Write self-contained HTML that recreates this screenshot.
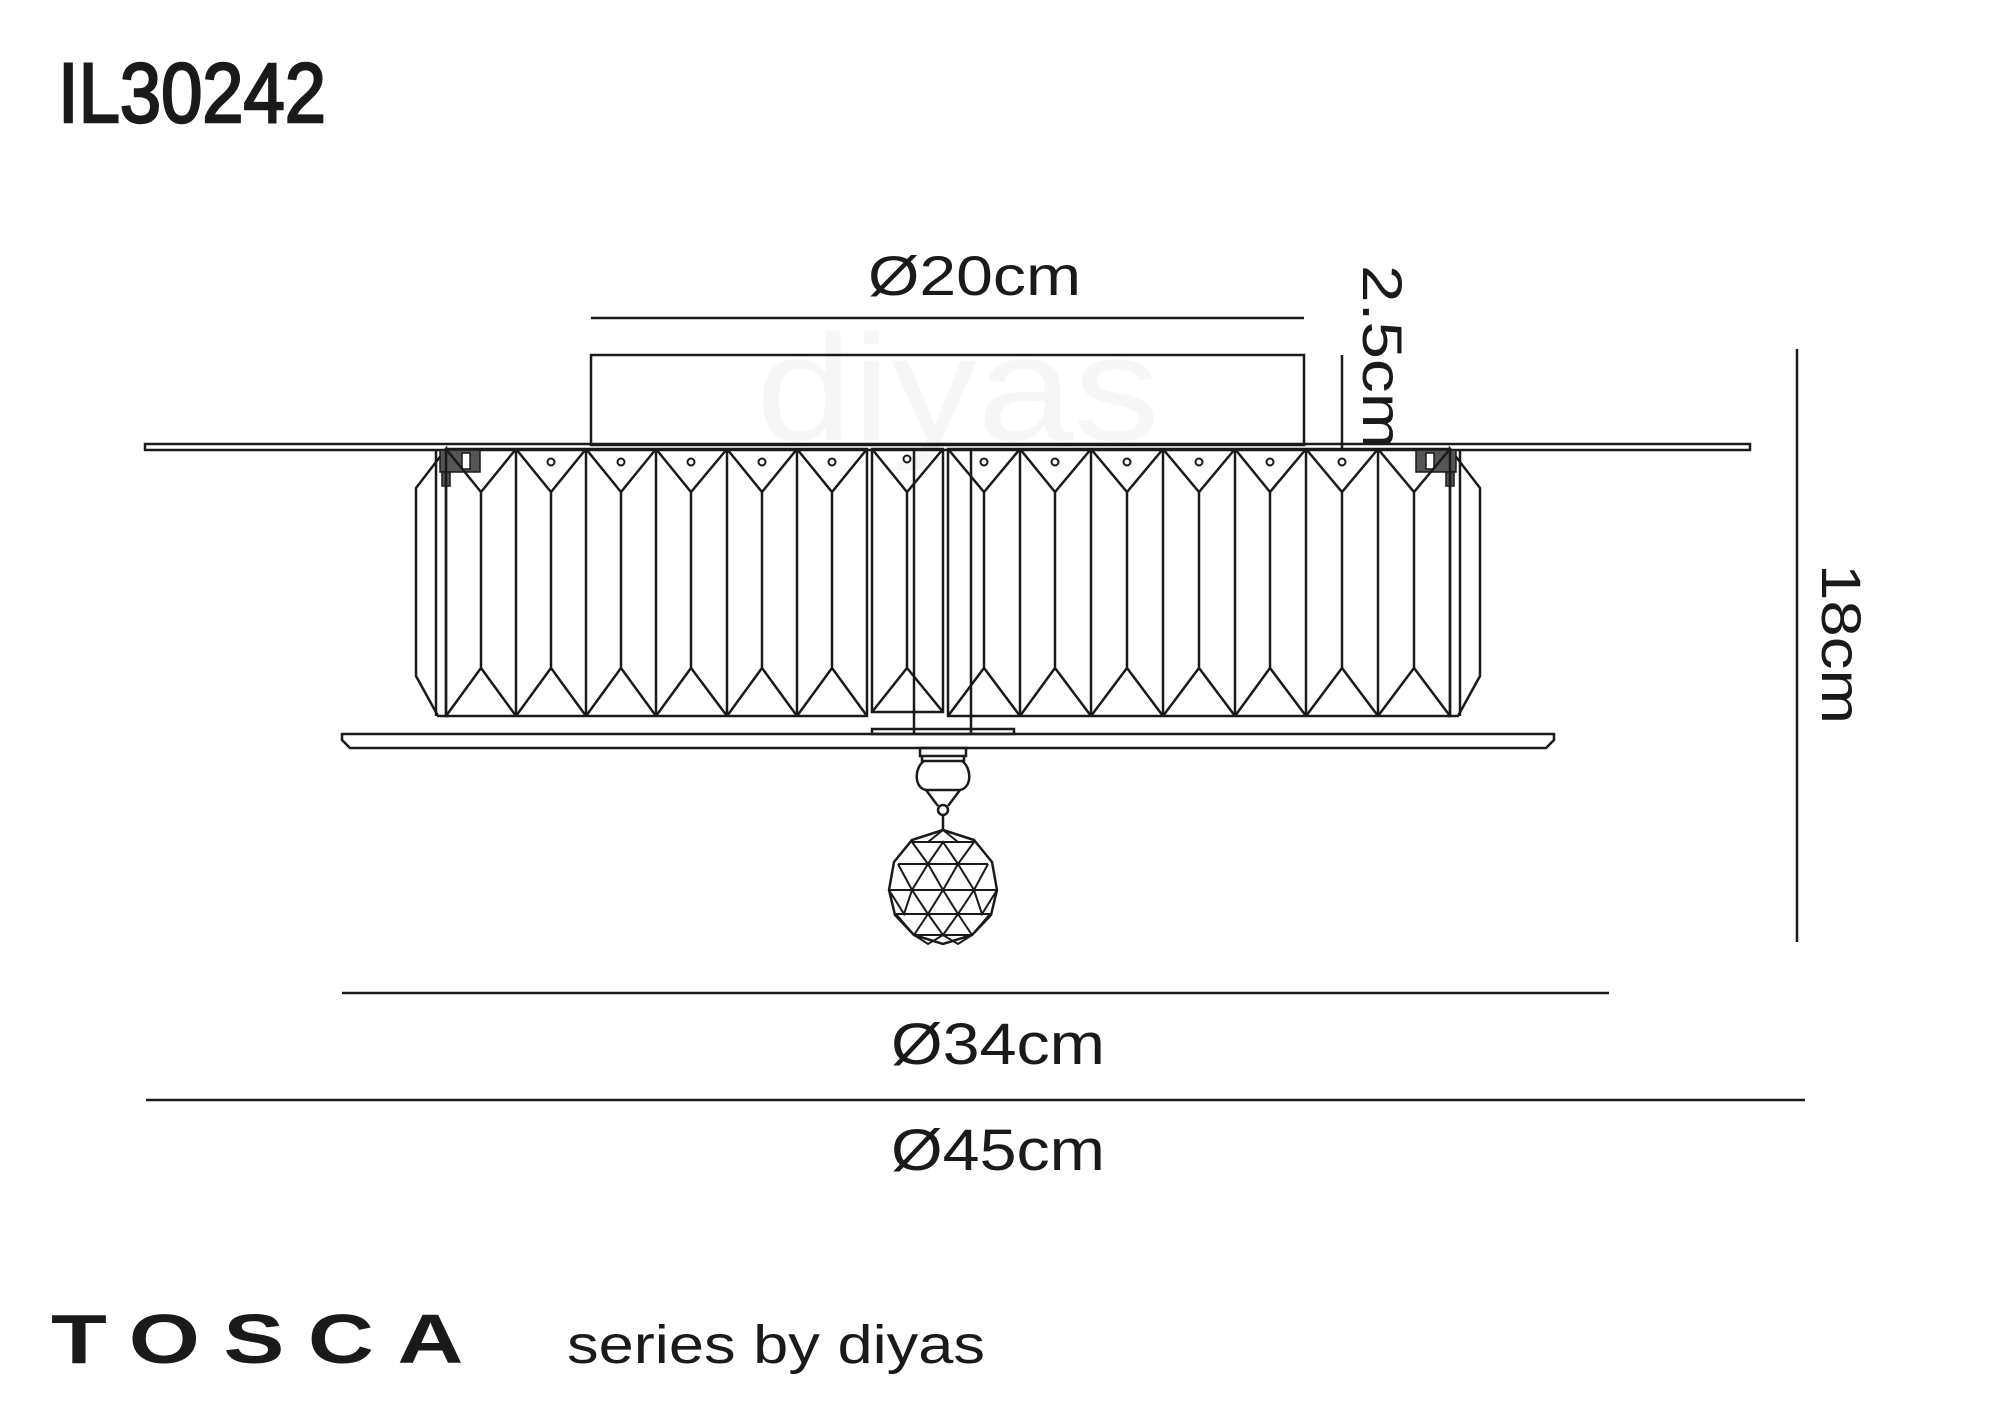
<!DOCTYPE html>
<html><head><meta charset="utf-8"><style>
html,body{margin:0;padding:0;background:#fff;}
svg{display:block;}
text{font-family:"Liberation Sans",sans-serif;fill:#1a1a1a;}
</style></head><body>
<svg width="2000" height="1417" viewBox="0 0 2000 1417" xmlns="http://www.w3.org/2000/svg">
<rect width="2000" height="1417" fill="#fff"/>
<text x="756" y="440" font-size="150" textLength="404" lengthAdjust="spacingAndGlyphs" style="fill:#f6f6f6">diyas</text>

<text x="58" y="122" font-size="84" textLength="268" lengthAdjust="spacingAndGlyphs" style="stroke:#1a1a1a;stroke-width:2.5">IL30242</text>

<g stroke="#1a1a1a" stroke-width="2.5" fill="none">
<line x1="591" y1="318" x2="1304" y2="318"/>
<rect x="591" y="355" width="713" height="90"/>
<rect x="145" y="444" width="1605" height="6"/>
<line x1="1342" y1="355" x2="1342" y2="451"/>
<line x1="1797" y1="349" x2="1797" y2="942"/>
<line x1="342" y1="993" x2="1609" y2="993"/>
<line x1="146" y1="1100" x2="1805" y2="1100"/>

<polygon points="446,449 416,488 416,676 438,716 446,716"/>
<line x1="436" y1="449" x2="436" y2="716"/>
<polygon points="1450,449 1480,488 1480,676 1458,716 1450,716"/>
<line x1="1460" y1="449" x2="1460" y2="716"/>
<rect x="440" y="450" width="40" height="22" fill="#555" stroke-width="1.5"/>
<rect x="462" y="453" width="8" height="16" fill="#fff" stroke-width="1.5"/>
<rect x="442" y="472" width="8" height="14" fill="#555" stroke-width="1.5"/>
<rect x="1416" y="450" width="40" height="22" fill="#555" stroke-width="1.5"/>
<rect x="1426" y="453" width="8" height="16" fill="#fff" stroke-width="1.5"/>
<rect x="1446" y="472" width="8" height="14" fill="#555" stroke-width="1.5"/>

<rect x="446" y="449" width="421" height="267"/>
<path d="M446,449L481,492L516,449M481,492V668M446,716L481,668L516,716"/>
<path d="M516,449V716M516,449L551,492L586,449M551,492V668M516,716L551,668L586,716"/>
<path d="M586,449V716M586,449L621,492L656,449M621,492V668M586,716L621,668L656,716"/>
<path d="M656,449V716M656,449L691,492L727,449M691,492V668M656,716L691,668L727,716"/>
<path d="M727,449V716M727,449L762,492L797,449M762,492V668M727,716L762,668L797,716"/>
<path d="M797,449V716M797,449L832,492L867,449M832,492V668M797,716L832,668L867,716"/>
<rect x="872" y="449" width="71" height="263"/>
<path d="M872,449L907,492L943,449M907,492V668M872,712L907,668L943,712"/>
<line x1="914" y1="449" x2="914" y2="733"/>
<line x1="971" y1="449" x2="971" y2="733"/>
<rect x="948" y="449" width="502" height="267"/>
<path d="M948,449L984,492L1020,449M984,492V668M948,716L984,668L1020,716"/>
<path d="M1020,449V716M1020,449L1055,492L1091,449M1055,492V668M1020,716L1055,668L1091,716"/>
<path d="M1091,449V716M1091,449L1127,492L1163,449M1127,492V668M1091,716L1127,668L1163,716"/>
<path d="M1163,449V716M1163,449L1199,492L1235,449M1199,492V668M1163,716L1199,668L1235,716"/>
<path d="M1235,449V716M1235,449L1270,492L1306,449M1270,492V668M1235,716L1270,668L1306,716"/>
<path d="M1306,449V716M1306,449L1342,492L1378,449M1342,492V668M1306,716L1342,668L1378,716"/>
<path d="M1378,449V716M1378,449L1414,492L1450,449M1414,492V668M1378,716L1414,668L1450,716"/>
<g stroke-width="2">
<circle cx="551" cy="462" r="3.5"/><circle cx="621" cy="462" r="3.5"/><circle cx="691" cy="462" r="3.5"/>
<circle cx="762" cy="462" r="3.5"/><circle cx="832" cy="462" r="3.5"/><circle cx="907" cy="459" r="3.5"/>
<circle cx="984" cy="462" r="3.5"/><circle cx="1055" cy="462" r="3.5"/><circle cx="1127" cy="462" r="3.5"/>
<circle cx="1199" cy="462" r="3.5"/><circle cx="1270" cy="462" r="3.5"/><circle cx="1342" cy="462" r="3.5"/>
</g>

<rect x="872" y="729" width="142" height="5"/>
<polygon points="342,734 1554,734 1554,740 1546,748 350,748 342,740"/>

<path d="M920,748H966V756H920Z M922,756H964V761H922Z"/>
<path d="M924,761 C914,768 914,788 926,790 L938,806 M962,761 C972,768 972,788 960,790 L948,806 M926,790H960"/>
<circle cx="943" cy="810" r="5"/>
<line x1="943" y1="815" x2="943" y2="830"/>
<polygon points="943,830 974,840 992,862 997,890 991,915 972,935 943,944 914,935 895,915 889,890 894,862 912,840"/>
<g stroke-width="2">
<path d="M912,842H974M898,864H988M889,890H997M896,914H990M914,935H972"/>
<path d="M912,842L928,864L943,842L958,864L974,842 M943,830L928,842 M943,830L958,842"/>
<path d="M898,864L912,890L928,864L943,890L958,864L974,890L988,864"/>
<path d="M889,890L904,914L912,890L928,914L943,890L958,914L974,890L982,914L997,890"/>
<path d="M896,914L914,935L928,914L943,935L958,914L972,935L990,914"/>
<path d="M914,935L928,944L943,935L958,944L972,935"/>
</g>
</g>

<text x="868" y="295" font-size="56" textLength="213" lengthAdjust="spacingAndGlyphs">Ø20cm</text>
<text x="891" y="1064" font-size="58" textLength="214" lengthAdjust="spacingAndGlyphs">Ø34cm</text>
<text x="891" y="1170" font-size="58" textLength="214" lengthAdjust="spacingAndGlyphs">Ø45cm</text>
<text transform="translate(1363,265) rotate(90)" font-size="56" textLength="184" lengthAdjust="spacingAndGlyphs">2.5cm</text>
<text transform="translate(1822,564) rotate(90)" font-size="56" textLength="160" lengthAdjust="spacingAndGlyphs">18cm</text>

<text x="51" y="1363" font-size="70" font-weight="bold" letter-spacing="18" textLength="436" lengthAdjust="spacingAndGlyphs">TOSCA</text>
<text x="567" y="1363" font-size="54" textLength="418" lengthAdjust="spacingAndGlyphs">series by diyas</text>
</svg>
</body></html>
